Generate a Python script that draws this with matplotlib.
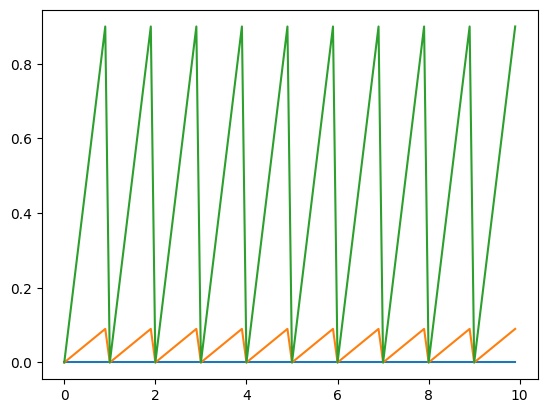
import matplotlib
matplotlib.use("Agg")
import matplotlib.pyplot as plt

# corner points of each sawtooth (straight segments between them)
x_pts = [0.0, 0.9, 1.0, 1.9, 2.0, 2.9, 3.0, 3.9, 4.0, 4.9,
         5.0, 5.9, 6.0, 6.9, 7.0, 7.9, 8.0, 8.9, 9.0, 9.9]
blue_y = [0.0, 0.0, 0.0, 0.0, 0.0, 0.0, 0.0, 0.0, 0.0, 0.0,
          0.0, 0.0, 0.0, 0.0, 0.0, 0.0, 0.0, 0.0, 0.0, 0.0]
orange_y = [0.0, 0.09, 0.0, 0.09, 0.0, 0.09, 0.0, 0.09, 0.0, 0.09,
            0.0, 0.09, 0.0, 0.09, 0.0, 0.09, 0.0, 0.09, 0.0, 0.09]
green_y = [0.0, 0.9, 0.0, 0.9, 0.0, 0.9, 0.0, 0.9, 0.0, 0.9,
           0.0, 0.9, 0.0, 0.9, 0.0, 0.9, 0.0, 0.9, 0.0, 0.9]

fig, ax = plt.subplots(figsize=(6.4, 4.8), dpi=100)
ax.plot(x_pts, blue_y)
ax.plot(x_pts, orange_y)
ax.plot(x_pts, green_y)

fig.savefig("out.png", bbox_inches="tight")
